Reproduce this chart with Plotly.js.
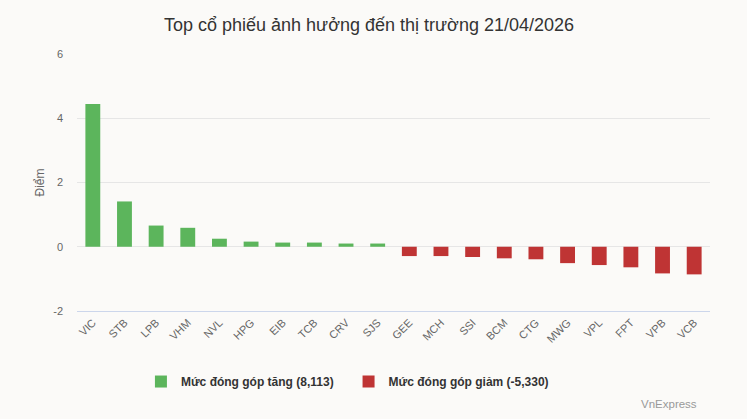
<!DOCTYPE html>
<html><head><meta charset="utf-8">
<script src="https://cdn.plot.ly/plotly-3.0.1.min.js"></script>
<style>html,body{margin:0;padding:0;background:#fbfaf8;}#chart{width:747px;height:419px;}</style>
</head><body><div id="chart"></div>
<script>
const categories = ["VIC","STB","LPB","VHM","NVL","HPG","EIB","TCB","CRV","SJS","GEE","MCH","SSI","BCM","CTG","MWG","VPL","FPT","VPB","VCB"];
const upValues = [4.44,1.41,0.66,0.59,0.25,0.16,0.13,0.13,0.10,0.10,null,null,null,null,null,null,null,null,null,null];
const downValues = [null,null,null,null,null,null,null,null,null,null,-0.29,-0.29,-0.32,-0.36,-0.39,-0.51,-0.57,-0.64,-0.83,-0.86];
const upName = "Mức đóng góp tăng (8,113)";
const downName = "Mức đóng góp giảm (-5,330)";
const yTicks = [-2,0,2,4,6];

const font = "Liberation Sans, Arial, sans-serif";
const traces = [
  {type:"bar", x:categories, y:upValues, name:upName, marker:{color:"#5cb55c"}, hoverinfo:"x+y", legend:"legend"},
  {type:"bar", x:categories, y:downValues, name:downName, marker:{color:"#bf3434"}, hoverinfo:"x+y", legend:"legend2"}
];
const legFont = {family:font, size:12, color:"#333333", weight:"bold"};
const layout = {
  width:747, height:419,
  paper_bgcolor:"#fbfaf8", plot_bgcolor:"#fbfaf8",
  margin:{l:77, r:37, t:54, b:108},
  barmode:"relative", bargap:0.53,
  showlegend:true,
  title:{text:"Top cổ phiếu ảnh hưởng đến thị trường 21/04/2026", font:{family:font, size:18, color:"#333333"}, x:0.494, xref:"container", xanchor:"center", y:0.94, yref:"container", yanchor:"middle"},
  xaxis:{type:"category", tickangle:-45, tickfont:{family:font, size:11, color:"#666666"}, showgrid:false, showline:true, linecolor:"#ccd6eb", linewidth:1, ticks:"", zeroline:false, fixedrange:true},
  yaxis:{range:[-2,6], tickvals:yTicks, ticktext:yTicks.map(String), tickfont:{family:font, size:11, color:"#666666"}, gridcolor:"#e6e6e6", gridwidth:1, zeroline:true, zerolinecolor:"#e6e6e6", zerolinewidth:1, showline:false, ticks:"", ticklabelstandoff:13,
    title:{text:"Điểm", font:{family:font, size:12, color:"#666666"}, standoff:6}},
  legend:{orientation:"h", x:0.101, xanchor:"left", y:-0.218, yanchor:"top", font:legFont, bgcolor:"rgba(0,0,0,0)"},
  legend2:{orientation:"h", x:0.429, xanchor:"left", y:-0.218, yanchor:"top", font:legFont, bgcolor:"rgba(0,0,0,0)"},
  annotations:[{text:"VnExpress", xref:"paper", yref:"paper", x:0.983, y:-0.33, xanchor:"right", yanchor:"top", showarrow:false, font:{family:font, size:11.5, color:"#999999"}}]
};
Plotly.newPlot("chart", traces, layout, {displayModeBar:false, staticPlot:true});
</script></body></html>
